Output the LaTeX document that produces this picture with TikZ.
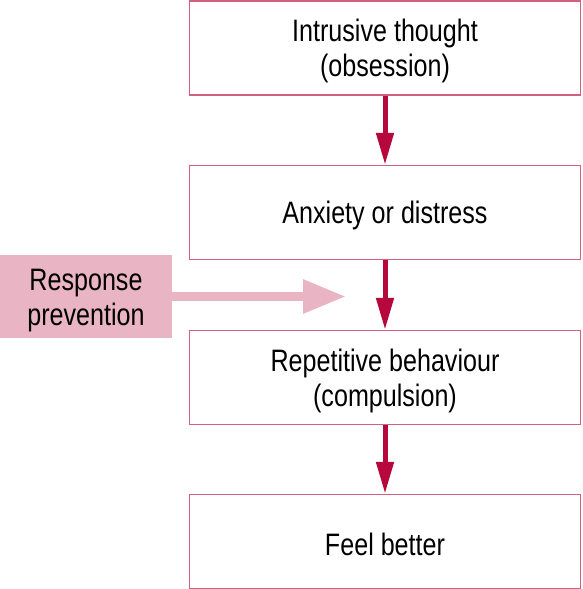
\documentclass[tikz,border=0pt]{standalone}
\usepackage{fontspec}
\setmainfont{Liberation Sans}[FakeStretch=0.81]
\usetikzlibrary{arrows.meta}
\definecolor{boxline}{HTML}{D2607F}
\definecolor{arrowred}{HTML}{B7083E}
\definecolor{pinkfill}{HTML}{E9B4C4}
\tikzset{
  stepbox/.style={draw=boxline, line width=1.5pt, minimum width=391pt, minimum height=94pt, inner sep=0pt},
  boxtext/.style={inner sep=0pt, align=center, font=\fontsize{31}{35}\selectfont},
  flowarrow/.style={draw=arrowred, line width=5pt, -{Triangle[width=17pt,length=32pt]}, arrowred, shorten >=0pt},
  pinkbox/.style={fill=pinkfill, minimum width=172pt, minimum height=83pt, inner sep=0pt},
  pinkarrow/.style={draw=pinkfill, line width=9pt, -{Triangle[width=32pt,length=43pt]}, pinkfill}
}
\begin{document}
\begin{tikzpicture}[x=1pt,y=-1pt]
\useasboundingbox (0,0) rectangle (582,589);
\node[stepbox] (a) at (385,48) {};
\node[stepbox] (b) at (385,212.5) {};
\node[stepbox] (c) at (385,377.5) {};
\node[stepbox] (d) at (385,541.5) {};
\node[pinkbox] (rp) at (86,296.5) {};
\node[boxtext] (at) at ([yshift=-3pt]a.center) {Intrusive thought\\(obsession)};
\node[boxtext] (bt) at ([yshift=-3pt]b.center) {Anxiety or distress};
\node[boxtext] (ct) at ([yshift=-3pt]c.center) {Repetitive behaviour\\(compulsion)};
\node[boxtext] (dt) at ([yshift=-3pt]d.center) {Feel better};
\node[boxtext] (rpt) at ([yshift=-4pt]rp.center) {Response\\prevention};
\coordinate (rpend) at (346,296.5);
\draw[flowarrow] (a.south) -- (b.north);
\draw[flowarrow] (b.south) -- (c.north);
\draw[flowarrow] (c.south) -- (d.north);
\draw[pinkarrow] (rp.east) -- (rpend);
\end{tikzpicture}
\end{document}
